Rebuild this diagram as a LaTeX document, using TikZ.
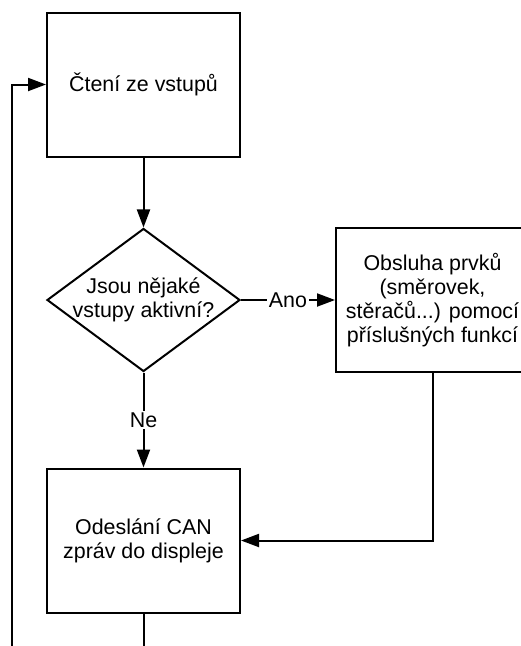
\documentclass[tikz,border=0pt]{standalone}
\usepackage{fontspec}
\setmainfont{Liberation Sans}
\usetikzlibrary{shapes.geometric,arrows.meta,positioning}

\begin{document}
\begin{tikzpicture}[x=1pt, y=-1pt, font=\fontsize{21.4}{24}\selectfont, line width=2pt, box/.style={draw, align=center, minimum width=193pt, minimum height=144pt, inner sep=0pt}, decision/.style={draw, diamond, minimum width=193pt, minimum height=143pt, inner sep=0pt}, arr/.style={-{Triangle[length=18pt, width=13pt]}}, lbl/.style={fill=white, inner sep=1.5pt}]
\clip (0,0) rectangle (521,646);
\node[box] (read) at (143.5,84.5) {Čtení ze vstupů};
\node[decision, below=70pt of read] (dec) {};
\node[align=center] (dectext) at (dec) {Jsou nějaké\\vstupy aktivní?};
\node[box, right=94pt of dec] (handle) {Obsluha prvků\\(směrovek,\\stěračů...) pomocí\\příslušných funkcí};
\node[box, below=95pt of dec] (send) {Odeslání CAN\\zpráv do displeje};
\coordinate (back) at (12,680);
\draw[arr] (read) -- (dec);
\draw[arr] (dec) -- node[lbl] {Ano} (handle);
\draw[arr] (dec) -- node[lbl] {Ne} (send);
\draw[arr] (handle.south) |- (send);
% loop back to the top (runs below the visible area)
\draw[arr] (send) -- (send |- back) -- (back) |- (read);
\end{tikzpicture}
\end{document}
